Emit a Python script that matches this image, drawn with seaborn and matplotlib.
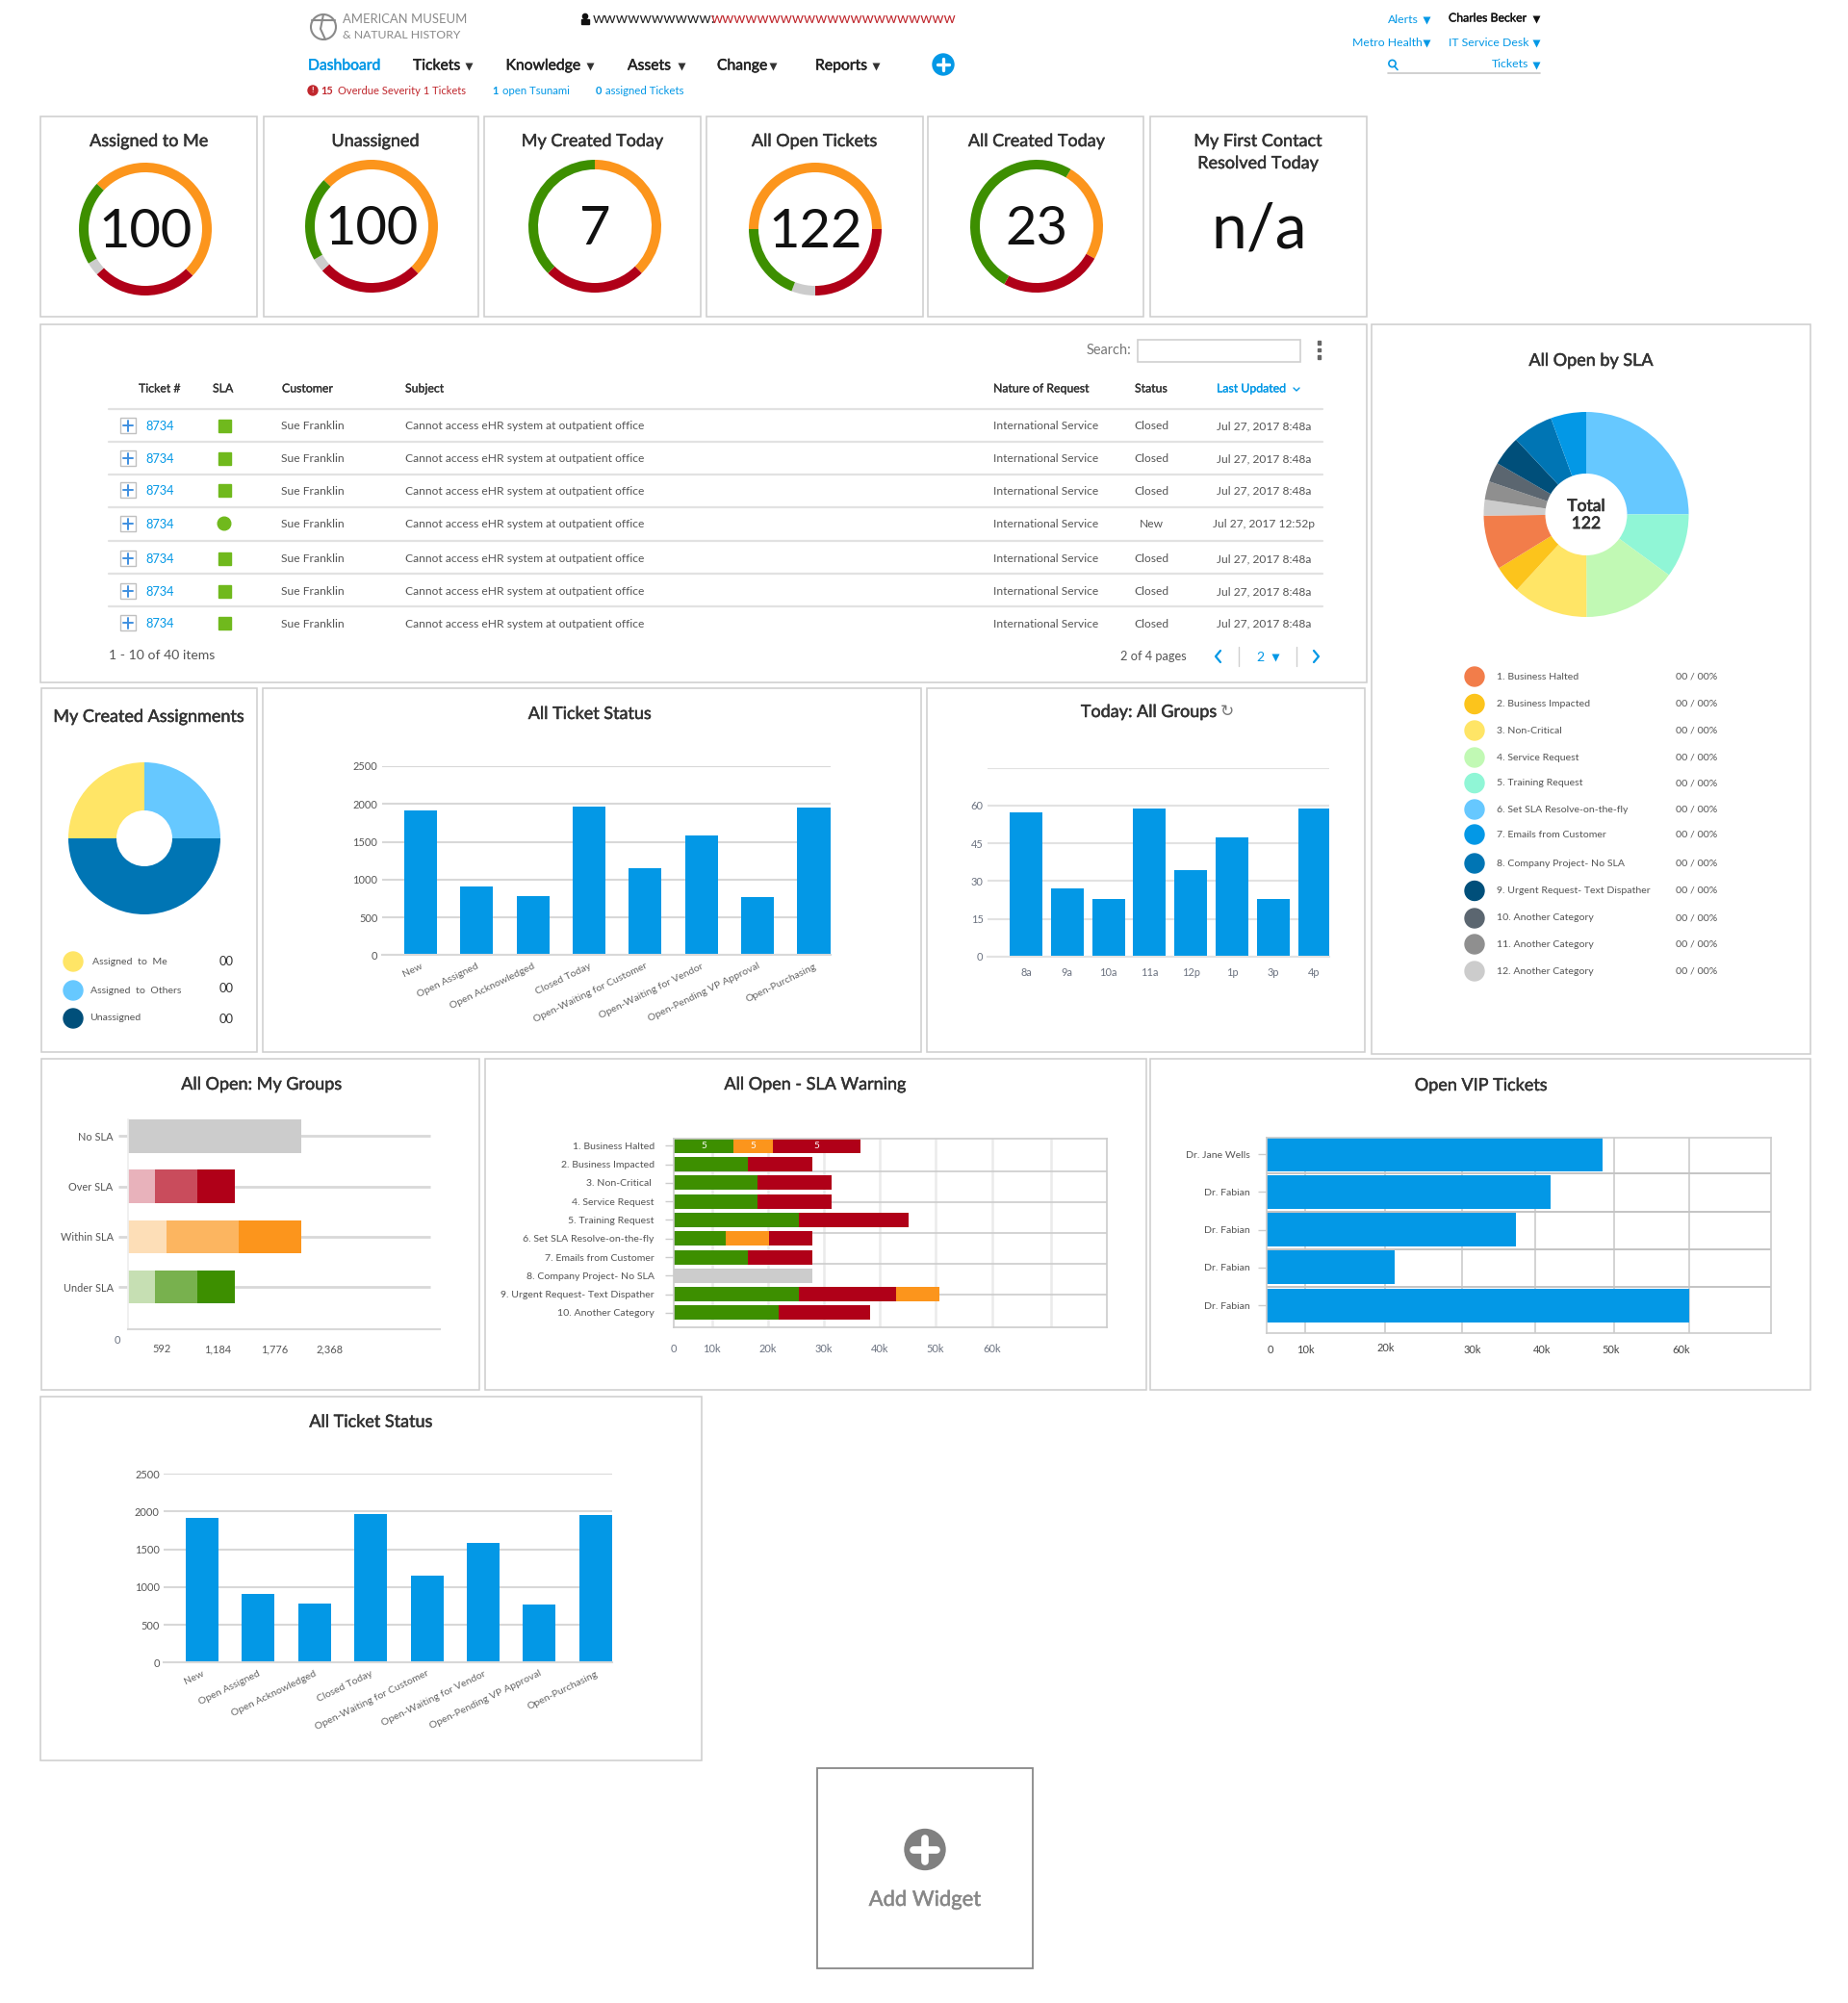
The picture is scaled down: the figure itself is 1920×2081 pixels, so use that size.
import numpy as np
import pandas as pd
import matplotlib
matplotlib.use("Agg")
import matplotlib.pyplot as plt
import matplotlib.patheffects as pe
from matplotlib.patches import Circle, Rectangle
from matplotlib.transforms import ScaledTranslation
import seaborn as sns

# ---- data ----
ring_titles = ["Assigned to Me", "Unassigned", "My Created Today", "All Open Tickets", "All Created Today"]
ring_numbers = ["100", "100", "7", "122", "23"]
ring_shares = [
    [50.4, 25.7, 3.3, 20.6],
    [50.4, 25.7, 3.3, 20.6],
    [37.5, 25.0, 0.0, 37.5],
    [50.0, 25.0, 5.8, 19.2],
    [24.5, 25.0, 0.0, 50.5],
]

status_labels = ["New", "Open Assigned", "Open Acknowledged", "Closed Today", "Open-Waiting for Customer",
                 "Open-Waiting for Vendor", "Open-Pending VP Approval", "Open-Purchasing"]
status_values = [1914, 908, 781, 1965, 1150, 1583, 768, 1952]

hour_labels = ["8a", "9a", "10a", "11a", "12p", "1p", "3p", "4p"]
hour_values = [57.2, 26.9, 23.0, 58.7, 34.3, 47.3, 23.0, 58.7]

sla_pie_names = ["1. Business Halted", "2. Business Impacted", "3. Non-Critical", "4. Service Request",
                 "5. Training Request", "6. Set SLA Resolve-on-the-fly", "7. Emails from Customer",
                 "8. Company Project- No SLA", "9. Urgent Request- Text Dispather", "10. Another Category",
                 "11. Another Category", "12. Another Category"]
sla_pie_share = [8.6, 4.4, 11.9, 14.9, 10.1, 25.0, 5.6, 6.4, 4.7, 3.1, 2.9, 2.5]
sla_pie_colors = ["#f27d4a", "#fcc41c", "#ffe566", "#c1f9b4", "#90f6d6", "#66c8ff", "#0398e6", "#0075b4",
                  "#004f7a", "#5b6670", "#8f8f8f", "#cccccc"]

assign_names = ["Assigned  to  Me", "Assigned  to  Others", "Unassigned"]
assign_share = [25, 25, 50]

group_labels = ["No SLA", "Over SLA", "Within SLA", "Under SLA"]
group_seg1 = [1836, 286, 408, 286]
group_seg2 = [0, 449, 765, 449]
group_seg3 = [0, 398, 663, 398]
group_col1 = ["#cccccc", "#e8b2bb", "#fddeb7", "#c6dfb3"]
group_col2 = ["#cccccc", "#c94c5c", "#fcb560", "#78b14e"]
group_col3 = ["#cccccc", "#b00018", "#fc951c", "#3d8f00"]
group_tick_pos = [357, 949, 1550, 2132]
group_tick_text = ["592", "1,184", "1,776", "2,368"]

warn_labels = ["1. Business Halted", "2. Business Impacted", "3. Non-Critical ", "4. Service Request",
               "5. Training Request", "6. Set SLA Resolve-on-the-fly", "7. Emails from Customer",
               "8. Company Project- No SLA", "9. Urgent Request- Text Dispather", "10. Another Category"]
warn_seg1 = [10650, 13180, 14940, 14940, 22300, 9270, 13180, 24750, 22300, 18700]
warn_seg2 = [7050, 11570, 13180, 13180, 19620, 7740, 11570, 0, 17320, 16320]
warn_seg3 = [15630, 0, 0, 0, 0, 7740, 0, 0, 7740, 0]
warn_col1 = ["#3d8f00"] * 7 + ["#cccccc"] + ["#3d8f00"] * 2
warn_col2 = ["#fc951c", "#b00018", "#b00018", "#b00018", "#b00018", "#fc951c", "#b00018", "#cccccc", "#b00018", "#b00018"]
warn_col3 = ["#b00018", "#b00018", "#b00018", "#b00018", "#b00018", "#b00018", "#b00018", "#cccccc", "#fc951c", "#b00018"]
warn_tick_pos = [0, 6800, 16800, 26800, 36700, 46600, 56800]
warn_grid_pos = [6800, 16800, 26800, 36700, 46600, 56800, 67200]
k_tick_text = ["0", "10k", "20k", "30k", "40k", "50k", "60k"]

vip_labels = ["Dr. Jane Wells", "Dr. Fabian", "Dr. Fabian", "Dr. Fabian", "Dr. Fabian"]
vip_values = [47700, 40320, 35380, 18180, 60020]
vip_tick_pos = [490, 5490, 16960, 29280, 39100, 48900, 58800]
vip_grid_pos = [5430, 16775, 27700, 38190, 49290, 60000]

row_status = ["Closed", "Closed", "Closed", "New", "Closed", "Closed", "Closed"]
row_updated = ["Jul 27, 2017 8:48a", "Jul 27, 2017 8:48a", "Jul 27, 2017 8:48a", "Jul 27, 2017 12:52p",
               "Jul 27, 2017 8:48a", "Jul 27, 2017 8:48a", "Jul 27, 2017 8:48a"]

# colours
BLUE = "#0398e6"
RED = "#b00018"
ORANGE = "#fc951c"
GREEN = "#3d8f00"
GRAY = "#cccccc"
BORDER = "#cfcfcf"
GRID = "#d8d8d8"
TITLE = "#333333"
TEXT = "#555555"

sns.set_theme(style="white")
plt.rcParams["font.family"] = ["Lato", "DejaVu Sans"]

W, H = 1920, 2081
fig = plt.figure(figsize=(W / 100, H / 100), dpi=100, facecolor="white")

# full page axes in pixel coordinates, everything that isn't a chart goes here
page = fig.add_axes([0, 0, 1, 1], zorder=0)
page.set_xlim(0, W)
page.set_ylim(H, 0)
page.axis("off")
page.set_autoscale_on(False)


def pt(px):
    return px * 0.72


def px_axes(x0, y0, x1, y1):
    ax = fig.add_axes([x0 / W, 1 - y1 / H, (x1 - x0) / W, (y1 - y0) / H], zorder=2)
    ax.patch.set_alpha(0)
    return ax


def label(x, y, s, size=12, color=TEXT, ha="left", **kw):
    return page.text(x, y + 1, s, fontsize=pt(size), color=color, ha=ha, va="center", **kw)


def semi(text, color, w=0.35):
    # Lato has no semi bold here, a thin outline gets close
    text.set_path_effects([pe.withStroke(linewidth=w, foreground=color)])
    return text


def card(x0, y0, x1, y1, color=BORDER, lw=1.15):
    page.add_patch(Rectangle((x0, y0), x1 - x0, y1 - y0, fill=False, ec=color, lw=lw))


def caret(x, y, color="#333333", ms=5.2):
    page.plot([x], [y], marker="v", ms=ms, color=color, mec="none")


def title(x, y, s):
    semi(label(x, y, s, size=18, color=TITLE, ha="center"), TITLE)


# header
page.add_patch(Circle((336, 28), 13, fill=False, ec="#8a8a8a", lw=1.5))
page.plot([324, 348], [21, 21], color="#8a8a8a", lw=1.5)
page.plot([336, 333, 338], [15, 30, 41], color="#8a8a8a", lw=1.5)
label(356, 19, "AMERICAN MUSEUM", size=13, color="#8a8a8a")
label(356, 35, "& NATURAL HISTORY", size=12.3, color="#8a8a8a")
page.add_patch(Circle((608, 17), 2.6, color="#111111"))
page.add_patch(Rectangle((604, 20), 8, 5, color="#111111"))
label(616, 19, "wwwwwwwwww:", size=15.7, color="#222222")
label(739, 19, "w" * 21, size=15.5, color="#c0272d")

nav_items = ["Tickets", "Knowledge", "Assets", "Change", "Reports"]
nav_x = [429, 525.5, 652, 745, 847]
nav_caret = [486.5, 613, 708, 803, 910]
semi(label(320, 67.5, "Dashboard", size=15.7, color=BLUE), BLUE)
for x, c, s in zip(nav_x, nav_caret, nav_items):
    semi(label(x, 67.5, s, size=15.7, color="#222222"), "#222222")
    caret(c, 69)
page.add_patch(Circle((980, 67), 11, color=BLUE, zorder=3))
page.plot([974, 986], [67, 67], color="white", lw=2.4, zorder=4)
page.plot([980, 980], [61, 73], color="white", lw=2.4, zorder=4)

page.add_patch(Circle((325, 94), 5, color="#c0272d", zorder=3))
label(325, 93, "!", size=8.5, color="white", ha="center", fontweight="bold", zorder=4)
label(333, 93.5, "15", size=11, color="#c0272d", fontweight="bold")
label(351, 93.5, "Overdue Severity 1 Tickets", size=11.1, color="#c0272d")
label(511, 93.5, "1", size=11, color=BLUE, fontweight="bold")
label(522, 93.5, "open Tsunami", size=11.4, color=BLUE)
label(619, 93.5, "0", size=11, color=BLUE, fontweight="bold")
label(629, 93.5, "assigned Tickets", size=11.4, color=BLUE)

label(1442, 19, "Alerts", size=12.3, color=BLUE)
caret(1482, 21, BLUE)
semi(label(1505, 18, "Charles Becker", size=12.3, color="#111111"), "#111111", 0.25)
caret(1596, 20, "#111111")
label(1405, 43, "Metro Health", size=12.3, color=BLUE)
caret(1482, 45, BLUE)
label(1505, 43, "IT Service Desk", size=12.3, color=BLUE)
caret(1596, 45, BLUE)
page.add_patch(Circle((1446.5, 66), 3.6, fill=False, ec=BLUE, lw=1.2))
page.plot([1449, 1452], [69, 72.5], color=BLUE, lw=1.2)
label(1550, 66, "Tickets", size=12.3, color=BLUE)
caret(1596, 68, BLUE)
page.plot([1442, 1600], [76, 76], color="#c8c8c8", lw=1.2)

# ring cards
ring_boxes = [(42, 267), (273.5, 497), (503, 728), (734, 958.5), (964, 1188)]
ring_title_x = [154.6, 390, 615.4, 846.3, 1077]
ring_cx = [151, 386, 618, 847, 1077]
ring_cy = [238, 235, 235, 238, 235]
ring_colors = [ORANGE, RED, GRAY, GREEN]
ring_first = [313, 314, 0, 270, 31]
R = 69
for (x0, x1), tx, cx, cy, s, name, num, first in zip(ring_boxes, ring_title_x, ring_cx, ring_cy, ring_shares,
                                                      ring_titles, ring_numbers, ring_first):
    card(x0, 120.5, x1, 329)
    title(tx, 146, name)
    ax = px_axes(cx - R, cy - R, cx + R, cy + R)
    ax.pie(s, colors=ring_colors, startangle=90 - first, counterclock=False, radius=1,
           wedgeprops=dict(width=10 / R, lw=0))
    ax.set_xlim(-1, 1)
    ax.set_ylim(-1, 1)
    ax.text(0, -0.05, num, fontsize=pt(56), color="#111111", ha="center", va="center")
card(1195, 120.5, 1420, 329)
title(1307, 146, "My First Contact")
title(1307, 169, "Resolved Today")
label(1308, 238, "n/a", size=66, color="#111111", ha="center")

# ticket table
card(42, 337, 1420, 709)
label(1175, 363, "Search:", size=14.5, color="#777777", ha="right")
page.add_patch(Rectangle((1182, 352.5), 169, 23, fill=False, ec=BORDER, lw=1.2))
for y in [356, 363.5, 371]:
    page.add_patch(Rectangle((1368.5, y - 1.8), 3, 3.6, color="#666666"))
for x, s in zip([144, 221, 293, 421, 1032, 1179], ["Ticket #", "SLA", "Customer", "Subject", "Nature of Request", "Status"]):
    semi(label(x, 403, s, size=12.3, color="#333333"), "#333333", 0.2)
semi(label(1264, 403, "Last Updated", size=12.3, color=BLUE), BLUE, 0.2)
page.plot([1344, 1347, 1350], [403, 406, 403], color=BLUE, lw=1)

line_y = [425, 459, 493, 527, 562, 596, 630]
row_y = [442, 476, 509, 544, 580, 614, 647]
for y in line_y:
    page.plot([113, 1374], [y, y], color="#e2e2e2", lw=1.6)
for y, st, upd in zip(row_y, row_status, row_updated):
    page.add_patch(Rectangle((125, y - 8), 16, 16, fill=False, ec="#c0c0c0", lw=1))
    page.plot([128, 138], [y, y], color="#3f8fe0", lw=1.4)
    page.plot([133, 133], [y - 5.5, y + 5.5], color="#3f8fe0", lw=1.4)
    label(151, y, "8734", size=12.8, color=BLUE)
    if st == "New":
        page.add_patch(Circle((233, y), 6.8, color="#70b91d"))
    else:
        page.add_patch(Rectangle((226.5, y - 6.5), 13, 13, color="#70b91d"))
    label(292, y, "Sue Franklin", size=12.1)
    label(421, y, "Cannot access eHR system at outpatient office", size=12)
    label(1032, y, "International Service", size=12)
    label(1196, y, st, size=12, ha="center")
    label(1313, y, upd, size=12, ha="center")
label(113, 680, "1 - 10 of 40 items", size=14)
label(1164, 681, "2 of 4 pages", size=12.8)
page.plot([1268, 1263, 1268], [676, 682, 688], color=BLUE, lw=1.6)
page.plot([1365, 1370, 1365], [676, 682, 688], color=BLUE, lw=1.6)
label(1309, 682, "2", size=14, color=BLUE, ha="center")
caret(1325, 683, BLUE, ms=6)
page.plot([1287, 1287], [672, 692], color=BORDER, lw=1)
page.plot([1347, 1347], [672, 692], color=BORDER, lw=1)

# All Open by SLA
card(1425, 336.5, 1881, 1095)
title(1653, 374, "All Open by SLA")
ax = px_axes(1648 - 106.5, 534.5 - 106.5, 1648 + 106.5, 534.5 + 106.5)
# the slices start at Set SLA on the top, clockwise
order = [5, 4, 3, 2, 1, 0, 11, 10, 9, 8, 7, 6]
ax.pie([sla_pie_share[i] for i in order], colors=[sla_pie_colors[i] for i in order], startangle=90,
       counterclock=False, radius=1, wedgeprops=dict(width=1 - 42.5 / 106.5, lw=0))
ax.set_xlim(-1, 1)
ax.set_ylim(-1, 1)
semi(ax.text(0, 0.08, "Total", fontsize=pt(17.5), color=TITLE, ha="center", va="center"), TITLE, 0.5)
semi(ax.text(0, -0.09, "122", fontsize=pt(17.5), color=TITLE, ha="center", va="center"), TITLE, 0.5)
legend_y = [703, 731.5, 759, 787, 813.6, 841, 867, 897, 925.5, 954, 981, 1009]
for y, name, c in zip(legend_y, sla_pie_names, sla_pie_colors):
    page.add_patch(Circle((1532, y), 10, color=c))
    label(1555, y - 1, name, size=10.5)
    label(1741, y - 1, "00 / 00%", size=10.5)

# My Created Assignments
card(42.5, 715, 267, 1093)
title(154.5, 744, "My Created Assignments")
ax = px_axes(150 - 79, 871 - 79, 150 + 79, 871 + 79)
ax.pie([assign_share[1], assign_share[2], assign_share[0]], colors=["#66c8ff", "#0075b4", "#ffe566"], startangle=90,
       counterclock=False, radius=1, wedgeprops=dict(width=1 - 29 / 79, lw=0))
ax.set_xlim(-1, 1)
ax.set_ylim(-1, 1)
for y, vy, x, name, c in zip([999, 1029, 1058], [999, 1027, 1059], [96, 94, 93.5], assign_names,
                             ["#ffe566", "#66c8ff", "#004f7a"]):
    page.add_patch(Circle((76, y), 10, color=c))
    label(x, y - 1, name, size=10.5)
    label(235, vy - 1, "00", size=13, color="#333333", ha="center")


def status_chart(box, left, right):
    ax = px_axes(*box)
    sns.barplot(x=status_labels, y=status_values, color=BLUE, saturation=1, width=0.583, linewidth=0, ax=ax)
    ax.set_xlim(left, right)
    ax.set_ylim(0, 2500)
    ax.set_yticks([0, 500, 1000, 1500, 2000, 2500])
    ax.grid(axis="y", color=GRID, lw=1.5)
    ax.set_axisbelow(True)
    sns.despine(ax=ax, left=True, top=True, right=True)
    ax.spines["bottom"].set_color(GRID)
    ax.spines["bottom"].set_linewidth(1.5)
    ax.tick_params(axis="y", length=0, pad=3, labelsize=pt(11), labelcolor="#555555")
    ax.tick_params(axis="x", length=0, pad=5, labelsize=pt(10.5), labelcolor="#666666")
    plt.setp(ax.get_xticklabels(), rotation=26, ha="right", rotation_mode="anchor")
    return ax


# All Ticket Status, both copies
card(273, 715, 957, 1093)
title(613, 741, "All Ticket Status")
status_chart((396.5, 796, 863, 992.3), -0.694, 7.3)
card(42, 1450.5, 729, 1828.5)
title(385.6, 1476.6, "All Ticket Status")
status_chart((170, 1531, 635.8, 1727.3), -0.683, 7.29)

# Today: All Groups
card(963, 715, 1418, 1093)
title(1193.5, 739, "Today: All Groups")
label(1275, 738, "\u21bb", size=17, color="#777777", ha="center", family=["DejaVu Sans"])
ax = px_axes(1025.7, 797.7, 1381, 993.7)
sns.barplot(x=hour_labels, y=hour_values, color=BLUE, saturation=1, width=0.795, linewidth=0, ax=ax)
ax.set_xlim(-0.94, 7.36)
ax.set_ylim(0, 75)
ax.set_yticks([0, 15, 30, 45, 60, 75])
ax.set_yticklabels(["0", "15", "30", "45", "60", ""])
ax.grid(axis="y", color="#e2e2e2", lw=1.5)
ax.set_axisbelow(True)
sns.despine(ax=ax, left=True, top=True, right=True)
ax.spines["bottom"].set_color("#e2e2e2")
ax.spines["bottom"].set_linewidth(1.5)
ax.tick_params(axis="y", length=0, pad=3, labelsize=pt(11), labelcolor="#6b7280")
ax.tick_params(axis="x", length=0, pad=8, labelsize=pt(11), labelcolor="#6b7280")


def stacked_hbar(ax, labels, segs, cols, width):
    # seaborn has no stacking so draw the running totals, longest first
    idx = [str(i) for i in range(len(labels))]
    totals = np.cumsum(np.array(segs), axis=0)
    for vals, col in zip(totals[::-1], cols[::-1]):
        df = pd.DataFrame({"row": idx, "val": vals})
        sns.barplot(data=df, x="val", y="row", hue="row", palette=dict(zip(idx, col)), saturation=1,
                    width=width, dodge=False, legend=False, linewidth=0, ax=ax)
    ax.set_yticks(range(len(labels)))
    ax.set_yticklabels(labels)
    ax.set_xlabel("")
    ax.set_ylabel("")
    return totals


# All Open: My Groups
card(42.7, 1100, 497.7, 1444)
title(271.7, 1126, "All Open: My Groups")
ax = px_axes(133, 1150, 456.7, 1380.7)
stacked_hbar(ax, group_labels, [group_seg1, group_seg2, group_seg3], [group_col1, group_col2, group_col3], 0.66)
ax.hlines(range(4), -98, 3203, color="#d8d8d8", lw=2, zorder=0.5, clip_on=False)
sns.despine(ax=ax, top=True, right=True)
ax.spines["left"].set_color("#eeeeee")
ax.spines["left"].set_bounds(3.835, -0.33)
ax.spines["bottom"].set_color("#d8d8d8")
ax.spines["bottom"].set_linewidth(1.5)
ax.tick_params(axis="y", length=0, pad=11, labelsize=pt(11), labelcolor="#555555")
ax.set_xticks(group_tick_pos)
ax.set_xticklabels(group_tick_text)
ax.set_xlim(0, 3301)
ax.set_ylim(3.835, -0.58)
ax.tick_params(axis="x", length=0, pad=11, labelsize=pt(11), labelcolor="#555555")
# the zero label sits left of the axis, outside the view
label(121.5, 1391, "0", size=11, color="#6b7280", ha="center")

# All Open - SLA Warning
card(503.6, 1100, 1190.6, 1444)
title(847, 1126, "All Open - SLA Warning")
ax = px_axes(700, 1183, 1150, 1379)
ax.vlines(warn_grid_pos, 0, 1, transform=ax.get_xaxis_transform(), color="#ebebeb", lw=1.8, zorder=0.4)
ax.hlines([1.38, 3.04, 4.7, 6.36, 8.01], 0, 77200, color="#cccccc", lw=1.2, zorder=0.5)
totals = stacked_hbar(ax, warn_labels, [warn_seg1, warn_seg2, warn_seg3], [warn_col1, warn_col2, warn_col3], 0.777)
ax.set_xlim(0, 77200)
ax.set_ylim(9.78, -0.38)
sns.despine(ax=ax, top=False, right=False)
for s in ax.spines.values():
    s.set_color("#cccccc")
    s.set_linewidth(1.2)
ax.tick_params(axis="y", length=6.5, width=1, color="#cccccc", pad=8, labelsize=pt(10.5), labelcolor="#555555", left=True)
ax.set_xticks(warn_tick_pos)
ax.set_xticklabels(k_tick_text)
ax.tick_params(axis="x", length=0, pad=12, labelsize=pt(11), labelcolor="#6b7280")
# the 5 5 5 on the first row
for a, b in zip([0, totals[0][0], totals[1][0]], [totals[0][0], totals[1][0], totals[2][0]]):
    ax.text((a + b) / 2, 0, "5", fontsize=pt(10), color="white", ha="center", va="center")

# Open VIP Tickets
card(1195.4, 1100, 1881, 1444)
title(1538.7, 1127, "Open VIP Tickets")
ax = px_axes(1316, 1182, 1839.5, 1385)
ax.vlines(vip_grid_pos, 0, 1, transform=ax.get_xaxis_transform(), color="#cccccc", lw=1.2, zorder=0.4)
ax.hlines([0.505, 1.525, 2.52, 3.51], 0, 71550, color="#c4c4c4", lw=1.4, zorder=0.5)
sns.barplot(x=vip_values, y=[str(i) for i in range(5)], color=BLUE, saturation=1, width=0.89, linewidth=0, ax=ax)
ax.set_yticks(range(5))
ax.set_yticklabels(vip_labels)
ax.set_ylabel("")
ax.set_xticks(vip_tick_pos)
ax.set_xticklabels(k_tick_text)
ax.set_xlim(0, 71550)
ax.set_ylim(4.735, -0.437)
for s in ax.spines.values():
    s.set_color("#cccccc")
    s.set_linewidth(1.2)
ax.tick_params(axis="y", length=6.5, width=1, color="#cccccc", pad=6, labelsize=pt(10.5), labelcolor="#555555", left=True)
ax.tick_params(axis="x", length=0, pad=9, labelsize=pt(11), labelcolor="#444444")
# 20k sits a bit higher than the rest
lab = ax.get_xticklabels()[2]
lab.set_transform(lab.get_transform() + ScaledTranslation(0, 2 / 72, fig.dpi_scale_trans))

# Add Widget
card(849, 1836.5, 1072.6, 2045, color="#888888", lw=1.3)
page.add_patch(Circle((961, 1921.5), 21, color="#808080", zorder=3))
page.plot([949, 973], [1921.5, 1921.5], color="white", lw=5.5, zorder=4, solid_capstyle="round")
page.plot([961, 961], [1909.5, 1933.5], color="white", lw=5.5, zorder=4, solid_capstyle="round")
semi(label(961, 1973, "Add Widget", size=22, color="#888888", ha="center"), "#888888")

fig.savefig("out.png", dpi=100, facecolor="white")
